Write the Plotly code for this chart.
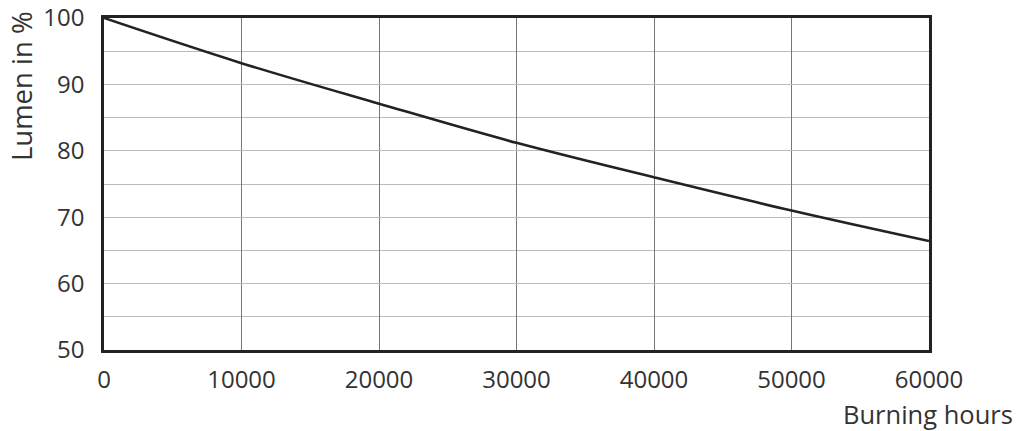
import plotly.graph_objs as go

# Lumen maintenance curve
hours = [0, 10000, 20000, 30000, 40000, 50000, 60000]
lumen = [100, 93.2, 87.1, 81.2, 76.0, 71.0, 66.4]

x_ticks = [0, 10000, 20000, 30000, 40000, 50000, 60000]
y_ticks = [50, 60, 70, 80, 90, 100]

font_name = "Open Sans"
txt = "#333333"

fig = go.Figure()
fig.add_trace(go.Scatter(x=hours, y=lumen, mode="lines", line=dict(color="#222222", width=2.6, shape="spline"),
                         showlegend=False, hoverinfo="skip"))

fig.update_xaxes(range=[0, 60000], tickvals=x_ticks, ticktext=[str(v) for v in x_ticks],
                 showgrid=True, gridcolor="#777777", gridwidth=1,
                 showline=True, linecolor="#222222", linewidth=2.6, mirror=True,
                 ticks="", ticklabelstandoff=6, zeroline=False, automargin=False,
                 ticklabeloverflow="allow",
                 tickfont=dict(family=font_name, size=24, color=txt))
fig.update_yaxes(range=[50, 100], tickvals=y_ticks, ticktext=[str(v) for v in y_ticks],
                 showgrid=True, gridcolor="#bbbbbb", gridwidth=1.4,
                 minor=dict(dtick=5, tick0=50, showgrid=True, gridcolor="#bbbbbb", gridwidth=1.4),
                 showline=True, linecolor="#222222", linewidth=2.6, mirror=True,
                 ticks="", ticklabelstandoff=12, zeroline=False, automargin=False,
                 ticklabeloverflow="allow",
                 tickfont=dict(family=font_name, size=24, color=txt))

fig.add_annotation(text="Burning hours", xref="paper", yref="paper", x=1.104, y=-0.135,
                   xanchor="right", yanchor="top", showarrow=False,
                   font=dict(family=font_name, size=25.5, color=txt))
fig.add_annotation(text="Lumen in %", xref="paper", yref="paper", x=-0.125, y=1.028,
                   xanchor="left", yanchor="top", textangle=-90, showarrow=False,
                   font=dict(family=font_name, size=27.5, color=txt))

# page body adds an 8px offset, so the figure is 8px smaller than the window
fig.update_layout(width=1016, height=423, margin=dict(l=96, r=95, t=10, b=81),
                  plot_bgcolor="white", paper_bgcolor="white")

fig.write_html("out.html")
